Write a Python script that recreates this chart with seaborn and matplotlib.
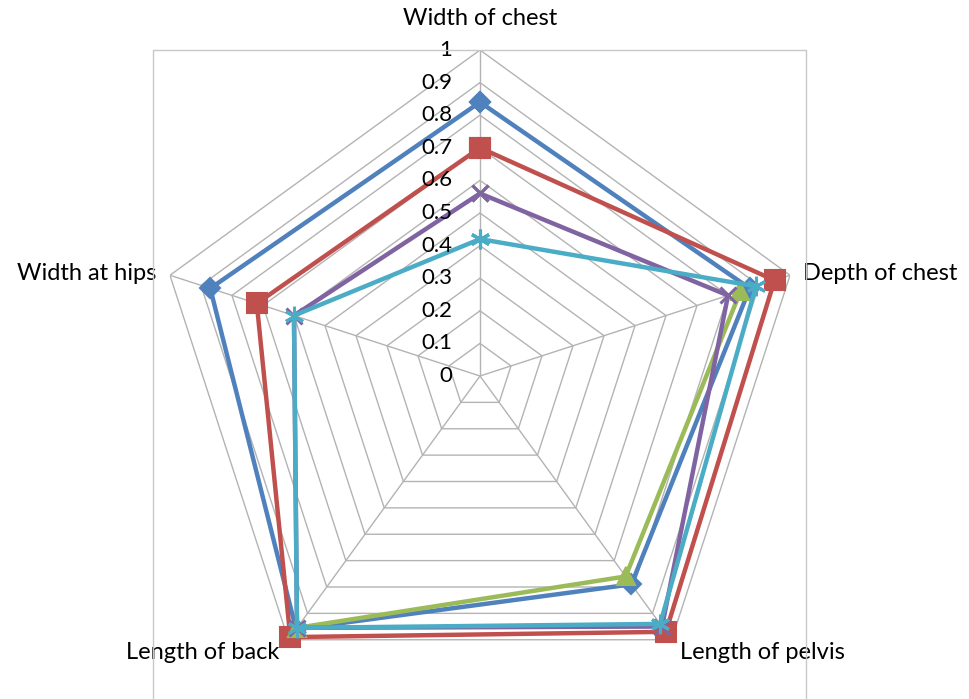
import matplotlib
matplotlib.use("Agg")
import matplotlib.pyplot as plt
from matplotlib.lines import Line2D
import numpy as np
import pandas as pd
import seaborn as sns

# axes of the radar, clockwise from the top
categories = ['Width of chest', 'Depth of chest', 'Length of pelvis', 'Length of back', 'Width at hips']

# series values (None = empty cell, no point drawn)
series_1 = [0.84, 0.87, 0.79, 0.96, 0.87]    # blue diamond
series_2 = [0.70, 0.95, 0.97, 0.99, 0.72]    # red square
series_3 = [None, 0.84, 0.76, 0.955, None]   # green triangle
series_4 = [0.56, 0.80, 0.95, 0.955, 0.60]   # purple x
series_5 = [0.42, 0.89, 0.94, 0.955, 0.60]   # cyan star

series_names = ['Series1', 'Series2', 'Series3', 'Series4', 'Series5']
tick_values = [0, 0.1, 0.2, 0.3, 0.4, 0.5, 0.6, 0.7, 0.8, 0.9, 1]
tick_labels = ['0', '0.1', '0.2', '0.3', '0.4', '0.5', '0.6', '0.7', '0.8', '0.9', '1']

colors = ['#4F81BD', '#C0504D', '#9BBB59', '#8064A2', '#4BACC6']
markers = ['D', 's', '^', 'x', (6, 2, 0)]
msizes = [10, 14, 13, 12, 14]
mews = [1.5, 1.5, 1.5, 2.2, 2.2]

sns.set_style('white')
plt.rcParams['font.family'] = ['Lato', 'DejaVu Sans']

n = len(categories)
theta = np.linspace(0, 2 * np.pi, n, endpoint=False)
theta_closed = np.append(theta, 2 * np.pi)

fig = plt.figure(figsize=(9.69, 6.99), dpi=100)
# centre at (480, 376) px, radius 326 px
ax = fig.add_axes([154 / 969, -3 / 699, 652 / 969, 652 / 699], projection='polar')
ax.set_theta_zero_location('N')
ax.set_theta_direction(-1)
ax.axis('off')

grid_c = '#B3B3B3'
for lvl in tick_values[1:]:
    ax.plot(theta_closed, [lvl] * (n + 1), color=grid_c, lw=1, zorder=1)
for t in theta:
    ax.plot([t, t], [0, 1], color=grid_c, lw=1, zorder=1)

all_series = [series_1, series_2, series_3, series_4, series_5]
for name, vals, c, m, ms, mw in zip(series_names, all_series, colors, markers, msizes, mews):
    df = pd.DataFrame({'theta': theta_closed, 'value': list(vals) + [vals[0]]}, dtype=float)
    # break the line at empty cells, like Excel does
    run_id = df['value'].isna().cumsum()
    for _, part in df[df['value'].notna()].groupby(run_id[df['value'].notna()]):
        sns.lineplot(data=part, x='theta', y='value', ax=ax, sort=False, color=c, lw=3.2,
                     marker=m, markersize=ms, markeredgecolor=c, markeredgewidth=mw,
                     clip_on=False, zorder=3)

ax.set_ylim(0, 1)
ax.set_xlabel('')
ax.set_ylabel('')

# value labels along the top axis
for v, lab in zip(tick_values, tick_labels):
    ax.annotate(lab, xy=(0, v), xytext=(-20, 0), textcoords='offset points',
                ha='right', va='center', fontsize=16, color='black', annotation_clip=False)

# category labels
label_offsets = [(0, 23, 'center'), (9, 1.5, 'left'), (6, -9, 'left'), (-6.5, -9, 'right'), (-10, 1.5, 'right')]
for t, lab, (dx, dy, ha) in zip(theta, categories, label_offsets):
    ax.annotate(lab, xy=(t, 1), xytext=(dx, dy), textcoords='offset points',
                ha=ha, va='center', fontsize=17, color='black', annotation_clip=False)

# plot area border
border_c = '#C8C8C8'
top = 1 - 50 / 699
fig.add_artist(Line2D([153 / 969, 153 / 969], [0, top], color=border_c, lw=1))
fig.add_artist(Line2D([806 / 969, 806 / 969], [0, top], color=border_c, lw=1))
fig.add_artist(Line2D([153 / 969, 806 / 969], [top, top], color=border_c, lw=1))

fig.savefig('out.png', dpi=100)
